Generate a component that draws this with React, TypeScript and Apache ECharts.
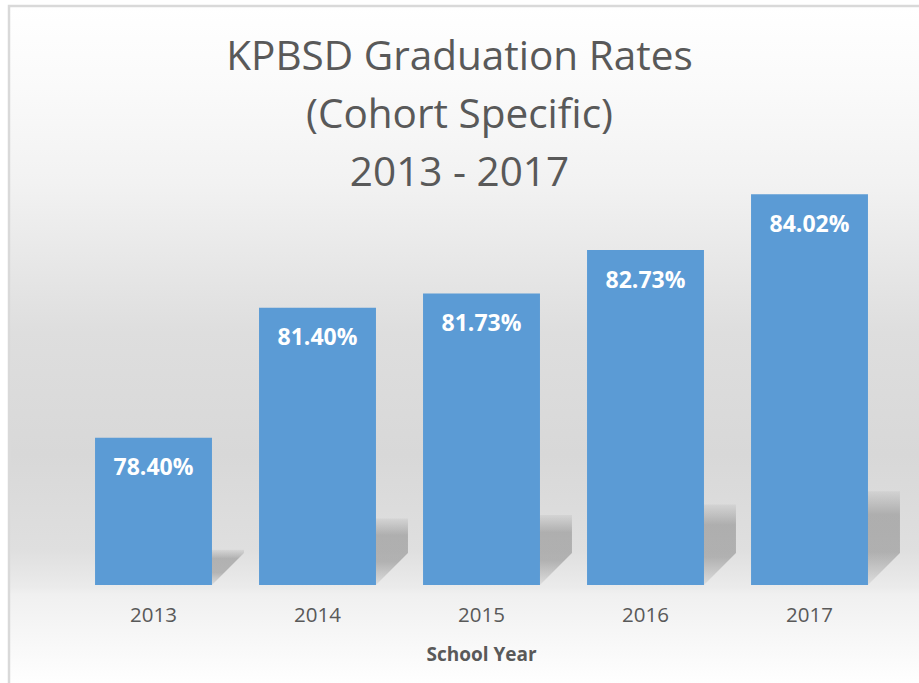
import React, { useEffect, useRef } from "react";
import * as echarts from "echarts";

const categories = ["2013", "2014", "2015", "2016", "2017"];
const rates = [78.4, 81.4, 81.73, 82.73, 84.02];
const titleLines = ["KPBSD Graduation Rates", "(Cohort Specific)", "2013 - 2017"];
const axisName = "School Year";
const yMin = 75;
const yMax = 85;

export default function App() {
  const ref = useRef<HTMLDivElement>(null);
  useEffect(() => {
    if (!ref.current) return;
    const chart = echarts.init(ref.current, null, { renderer: "svg" });
    const option: any = {
      animation: false,
      backgroundColor: "#ffffff",
      title: {
        text: titleLines.join("\n"),
        left: "center",
        top: 25,
        padding: 0,
        textStyle: {
          fontFamily: "Open Sans",
          fontSize: 40.5,
          fontWeight: "normal",
          color: "#595959",
          lineHeight: 58,
        },
      },
      graphic: [
        {
          type: "rect",
          z: -10,
          silent: true,
          shape: { x: 9, y: 6, width: 912, height: 680 },
          style: {
            fill: new echarts.graphic.LinearGradient(0, 0, 0, 1, [
              { offset: 0, color: "#ffffff" },
              { offset: 0.12, color: "#fafafa" },
              { offset: 0.26, color: "#f2f2f2" },
              { offset: 0.48, color: "#dedede" },
              { offset: 0.66, color: "#d8d8d8" },
              { offset: 0.8, color: "#dfdfdf" },
              { offset: 0.855, color: "#ebebeb" },
              { offset: 0.865, color: "#f0f0f0" },
              { offset: 1, color: "#ffffff" },
            ]),
            stroke: "#d9d9d9",
            lineWidth: 2.5,
          },
        },
      ],
      grid: { left: 71.5, right: 27.5, top: 151.7, bottom: 98 },
      xAxis: {
        type: "category",
        data: categories,
        name: axisName,
        nameLocation: "middle",
        nameGap: 59,
        nameTextStyle: {
          fontFamily: "Open Sans",
          fontSize: 19,
          fontWeight: "bold",
          color: "#595959",
        },
        axisLine: { show: false },
        axisTick: { show: false },
        axisLabel: {
          margin: 18,
          fontFamily: "Open Sans",
          fontSize: 20.5,
          color: "#595959",
        },
      },
      yAxis: {
        type: "value",
        min: yMin,
        max: yMax,
        show: false,
        splitLine: { show: false },
      },
      series: [
        {
          type: "custom",
          z: 1,
          silent: true,
          data: rates.map((v, i) => [i, v]),
          renderItem: (params: any, api: any) => {
            const idx = api.value(0);
            const val = api.value(1);
            const top = api.coord([idx, val]);
            const base = api.coord([idx, yMin]);
            const band = api.size([1, 0])[0];
            const half = (band * 0.713) / 2;
            const xr = top[0] + half;
            const h = base[1] - top[1];
            const sh = h * 0.24;
            const d = Math.min(32, sh);
            const b = base[1];
            return {
              type: "polygon",
              shape: {
                points: [
                  [xr - 10, b],
                  [xr, b],
                  [xr + d, b - d],
                  [xr + d, b - sh],
                  [xr - 10, b - sh],
                ],
              },
              style: {
                fill: new echarts.graphic.LinearGradient(0, 0, 0, 1, [
                  { offset: 0, color: "rgba(110,110,110,0.08)" },
                  { offset: 0.25, color: "rgba(110,110,110,0.42)" },
                  { offset: 0.65, color: "rgba(110,110,110,0.42)" },
                  { offset: 1, color: "rgba(110,110,110,0.1)" },
                ]),
              },
            };
          },
        },
        {
          type: "bar",
          z: 3,
          data: rates,
          barCategoryGap: "28.7%",
          itemStyle: { color: "#5b9bd5" },
          label: {
            show: true,
            position: "insideTop",
            distance: 17,
            formatter: (p: any) => p.value.toFixed(2) + "%",
            fontFamily: "Open Sans",
            fontSize: 23,
            fontWeight: "bold",
            color: "#ffffff",
          },
        },
      ],
    };
    chart.setOption(option);
    return () => chart.dispose();
  }, []);
  return (
    <div
      ref={ref}
      style={{ position: "absolute", left: 0, top: 0, width: 919, height: 683 }}
    />
  );
}
